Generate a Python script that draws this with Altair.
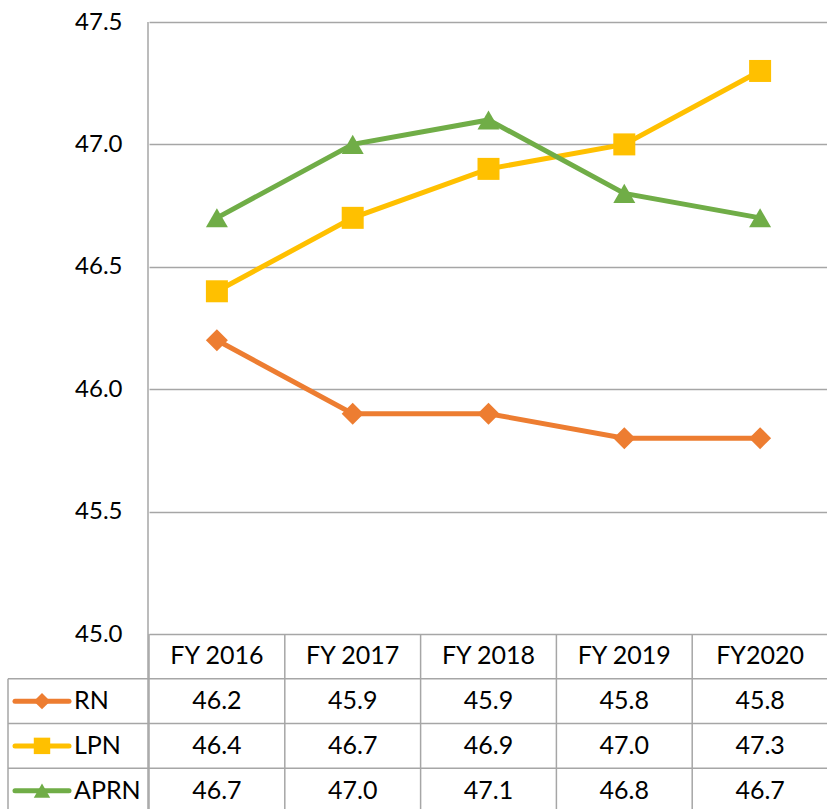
import altair as alt
import pandas as pd

# ---- data ----
years = ["FY 2016", "FY 2017", "FY 2018", "FY 2019", "FY2020"]
series_names = ["RN", "LPN", "APRN"]
rn_values = [46.2, 45.9, 45.9, 45.8, 45.8]
lpn_values = [46.4, 46.7, 46.9, 47.0, 47.3]
aprn_values = [46.7, 47.0, 47.1, 46.8, 46.7]
y_ticks = [45.0, 45.5, 46.0, 46.5, 47.0, 47.5]

colors = ["#ED7D31", "#FFC000", "#70AD47"]
shapes = ["diamond", "square", "triangle-up"]
FONT = "Lato"
GRID = "#a6a6a6"

values_by_series = [rn_values, lpn_values, aprn_values]
rows = []
for i, (s, vals) in enumerate(zip(series_names, values_by_series)):
    for y, v in zip(years, vals):
        rows.append({"year": y, "series": s, "value": v, "row": i + 1, "rc": i + 1.5})
df = pd.DataFrame(rows)

key_df = pd.DataFrame({"series": series_names, "rc": [i + 1.5 for i in range(3)]})
header_df = pd.DataFrame({"year": years, "rc": [0.5] * len(years)})
vlines_df = pd.DataFrame({"year": years, "y0": [0] * len(years), "y1": [4] * len(years)})
hlines_df = pd.DataFrame({"b": [1, 2, 3]})
keyborder_df = pd.DataFrame({"y0": [1], "y1": [4]})

x_scale = alt.Scale(type="band", domain=years, paddingInner=0, paddingOuter=0,
                    range=[1, 680])
color_scale = alt.Scale(domain=series_names, range=colors)
shape_scale = alt.Scale(domain=series_names, range=shapes)

y_main_scale = alt.Scale(domain=[45, 47.5], range=[612, 0], nice=False, zero=False)
y_tab_scale = alt.Scale(domain=[0, 4], range=[612, 791], nice=False, zero=False)


def xenc(band=0.5):
    return alt.X("year:N", scale=x_scale, axis=None, bandPosition=band)


# ---- main plot ----
base = alt.Chart(df)
y_axis = alt.Axis(values=y_ticks, format=".1f", grid=True, gridColor=GRID, gridWidth=1.5,
                  domain=False, ticks=False, labelPadding=26, labelFont=FONT,
                  labelFontSize=24, labelColor="black", title=None)

main_layers = []
for k, s in enumerate(series_names):
    sub = base.transform_filter(alt.datum.series == s)
    yenc = alt.Y("value:Q", scale=y_main_scale, axis=y_axis)
    line = sub.mark_line(strokeWidth=5).encode(
        x=xenc(), y=yenc,
        color=alt.Color("series:N", scale=color_scale, legend=None))
    pts = sub.mark_point(filled=True, size=484, opacity=1).encode(
        x=xenc(), y=yenc,
        color=alt.Color("series:N", scale=color_scale, legend=None),
        shape=alt.Shape("series:N", scale=shape_scale, legend=None))
    main_layers += [line, pts]

main = alt.layer(*main_layers)

# ---- data table ----
ytab = lambda f: alt.Y(f, scale=y_tab_scale, axis=None)

vrules = alt.Chart(vlines_df).mark_rule(color=GRID, strokeWidth=1.5).encode(
    x=xenc(0), y=ytab("y0:Q"), y2="y1:Q")
hrules = alt.Chart(hlines_df).mark_rule(color=GRID, strokeWidth=1.5).encode(
    x=alt.value(-140), x2=alt.value(680), y=ytab("b:Q"))
keyborder = alt.Chart(keyborder_df).mark_rule(color=GRID, strokeWidth=1.5).encode(
    x=alt.value(-140), y=ytab("y0:Q"), y2="y1:Q")
axisline = alt.Chart(keyborder_df).mark_rule(color=GRID, strokeWidth=1.5).encode(
    x=alt.value(0), y=alt.value(0), y2=alt.value(791))

header = alt.Chart(header_df).mark_text(font=FONT, fontSize=25, color="black",
                                        baseline="middle", align="center").encode(
    x=xenc(), y=ytab("rc:Q"), text="year:N")
cells = alt.Chart(df).mark_text(font=FONT, fontSize=25, color="black",
                                baseline="middle", align="center").encode(
    x=xenc(), y=ytab("rc:Q"), text=alt.Text("value:Q", format=".1f"))

key_line = alt.Chart(key_df).mark_rule(strokeWidth=5, strokeCap="round").encode(
    x=alt.value(-133), x2=alt.value(-79), y=ytab("rc:Q"),
    color=alt.Color("series:N", scale=color_scale, legend=None))
key_pt = alt.Chart(key_df).mark_point(filled=True, size=270, opacity=1).encode(
    x=alt.value(-106), y=ytab("rc:Q"),
    color=alt.Color("series:N", scale=color_scale, legend=None),
    shape=alt.Shape("series:N", scale=shape_scale, legend=None))
key_text = alt.Chart(key_df).mark_text(font=FONT, fontSize=25, color="black",
                                       baseline="middle", align="left").encode(
    x=alt.value(-74), y=ytab("rc:Q"), text="series:N")

table = alt.layer(vrules, hrules, keyborder, axisline, header, cells, key_line, key_pt, key_text)

chart = alt.layer(main, table).resolve_scale(y="independent").properties(
    width=679, height=787,
    padding={"left": 148, "top": 22, "right": 0, "bottom": 0},
    autosize=alt.AutoSizeParams(type="none"),
    background="white",
).configure_view(stroke=None)

chart.save("out.html", embed_options={"renderer": "svg", "actions": False})
